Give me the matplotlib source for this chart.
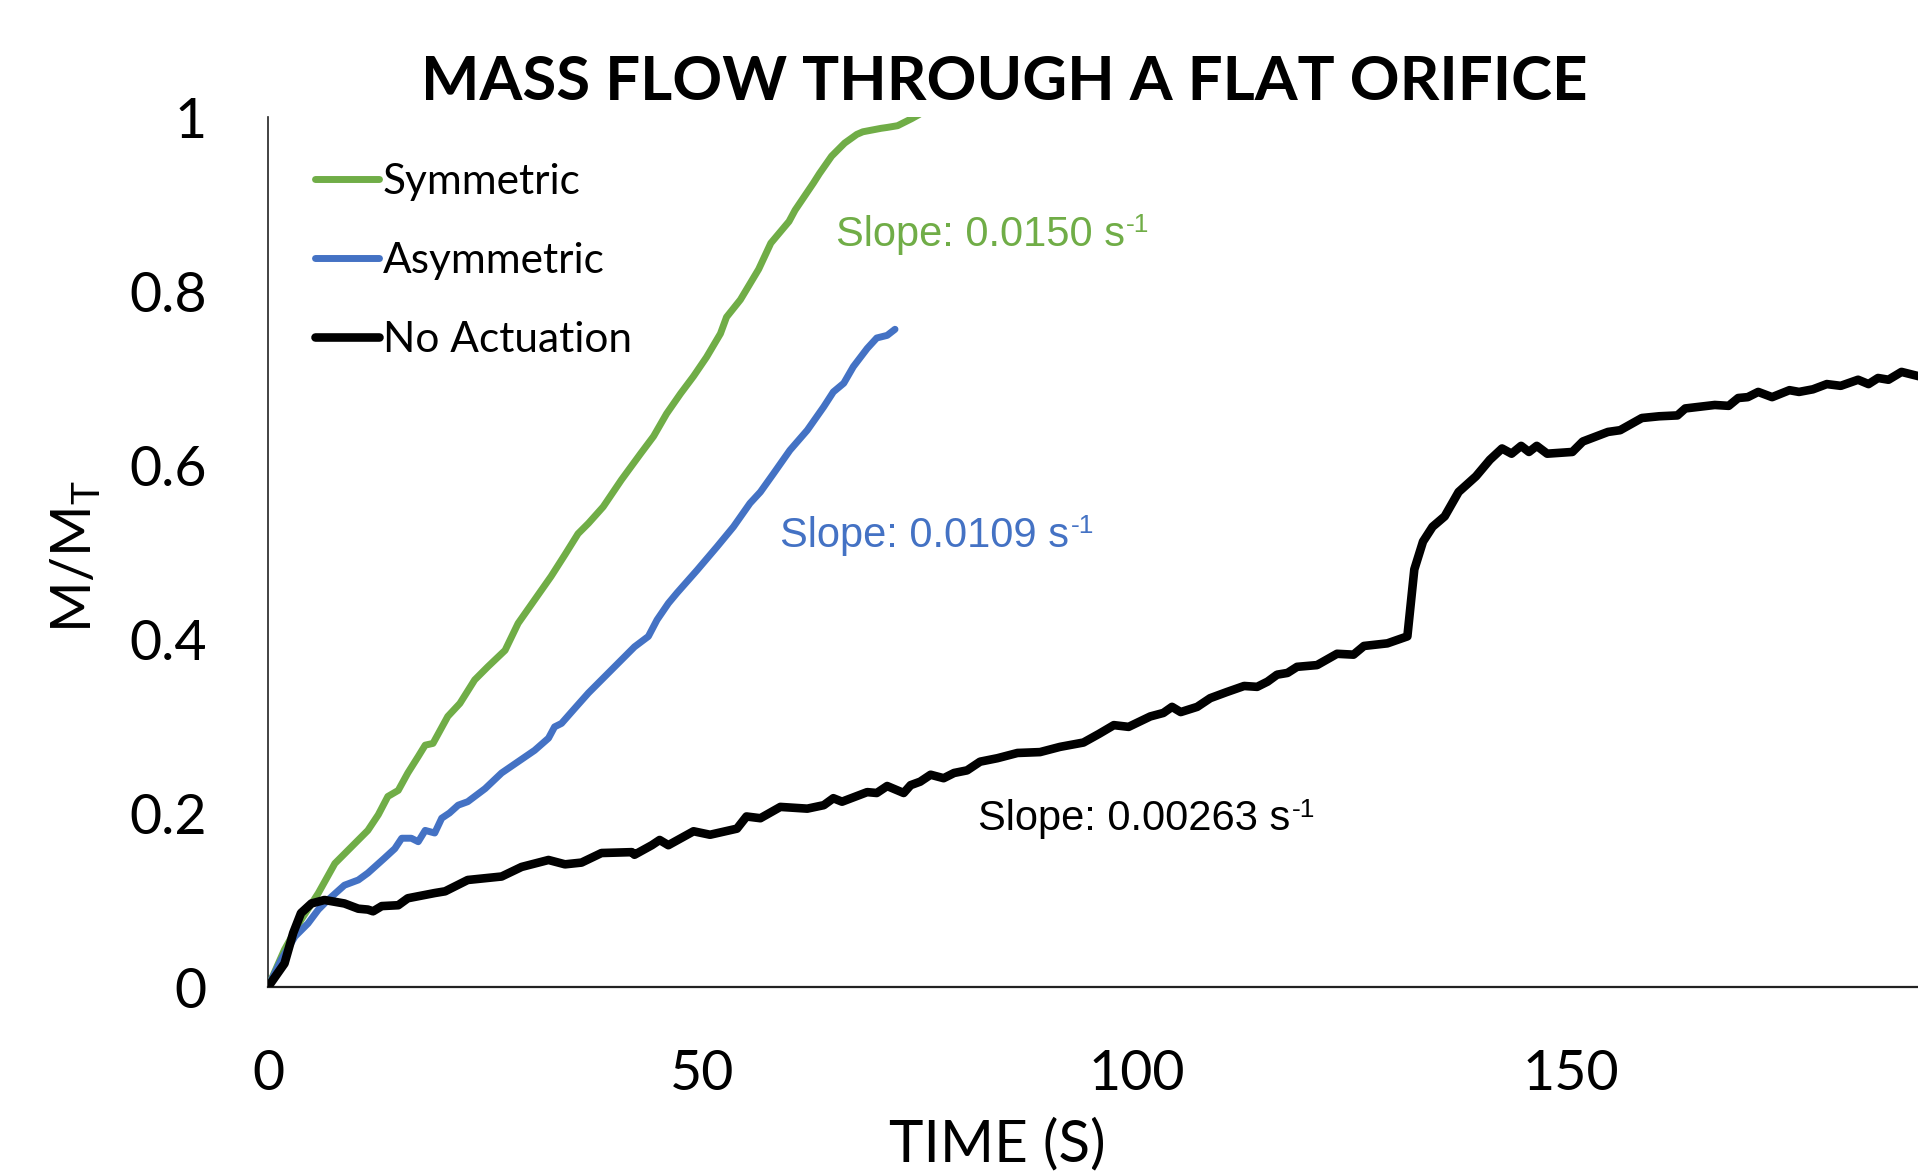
import matplotlib
matplotlib.use("Agg")
import matplotlib.pyplot as plt

# ---------------- data ----------------
sym_t = [0, 1.9, 3.8, 5.8, 7.7, 9.6, 11.5, 12.7, 13.8, 15.0, 16.1, 17.3, 18.1, 19.0,
         20.7, 22.1, 23.8, 25.3, 27.3, 28.8, 30.7, 32.6, 34.2, 35.7, 36.9, 38.6, 40.7,
         42.9, 44.4, 45.9, 47.5, 49.0, 50.5, 52.1, 52.8, 54.4, 56.5, 57.9, 60.0, 60.7,
         62.8, 63.5, 64.9, 66.4, 67.8, 68.5, 70.6, 71.3, 72.5, 74.1, 75.0]
sym_m = [0, 0.043, 0.077, 0.108, 0.142, 0.161, 0.180, 0.198, 0.219, 0.226, 0.246, 0.265,
         0.278, 0.280, 0.311, 0.326, 0.353, 0.368, 0.387, 0.418, 0.445, 0.472, 0.497,
         0.521, 0.533, 0.552, 0.583, 0.613, 0.633, 0.659, 0.682, 0.702, 0.724, 0.751,
         0.770, 0.790, 0.825, 0.855, 0.880, 0.893, 0.924, 0.935, 0.955, 0.970, 0.980,
         0.983, 0.987, 0.988, 0.990, 0.998, 1.003]

asym_t = [0, 1.5, 3.1, 4.6, 5.8, 6.9, 8.8, 10.4, 11.5, 13.4, 14.6, 15.4, 16.5, 17.3,
          18.1, 19.2, 20.0, 20.9, 21.9, 23.0, 25.0, 26.9, 28.8, 30.7, 32.3, 33.0, 33.8,
          35.3, 36.9, 38.4, 40.3, 42.2, 43.8, 44.8, 46.1, 47.1, 49.4, 51.7, 53.6, 55.5,
          56.7, 58.2, 60.1, 62.1, 64.0, 65.1, 66.3, 67.4, 69.0, 70.1, 71.3, 72.2]
asym_m = [0, 0.031, 0.058, 0.073, 0.089, 0.100, 0.117, 0.123, 0.131, 0.148, 0.159, 0.171,
          0.171, 0.167, 0.180, 0.177, 0.194, 0.200, 0.209, 0.213, 0.228, 0.246, 0.259,
          0.272, 0.286, 0.299, 0.303, 0.320, 0.338, 0.353, 0.372, 0.391, 0.403, 0.422,
          0.441, 0.453, 0.479, 0.506, 0.529, 0.556, 0.569, 0.590, 0.617, 0.640, 0.667,
          0.684, 0.694, 0.713, 0.734, 0.746, 0.749, 0.756]

noact_t = [0, 1.9, 2.9, 3.8, 5.0, 6.5, 8.8, 10.4, 11.5, 12.1, 13.1, 15.0, 16.1, 19.2,
           20.4, 23.0, 26.9, 29.2, 32.3, 34.2, 36.1, 38.4, 41.9, 42.2, 44.2, 45.1, 46.1,
           49.0, 50.9, 54.0, 55.1, 56.7, 59.0, 62.1, 64.0, 65.1, 66.1, 69.0, 70.1, 71.3,
           73.2, 74.0, 75.1, 76.3, 77.8, 79.0, 80.5, 82.0, 84.0, 86.3, 88.9, 91.2, 93.9,
           95.7, 97.4, 99.1, 101.6, 103.1, 104.1, 105.1, 107.0, 108.5, 110.4, 112.4,
           113.9, 115.1, 116.2, 117.4, 118.5, 120.8, 123.1, 125.0, 126.2, 128.9, 131.2,
           132.0, 133.0, 134.1, 135.5, 137.1, 139.1, 140.7, 142.1, 143.2, 144.3, 145.2,
           146.1, 147.3, 150.2, 151.4, 154.3, 155.7, 158.2, 160.2, 162.3, 163.2, 166.6,
           168.2, 169.3, 170.4, 171.6, 173.2, 175.2, 176.3, 177.9, 179.5, 181.1, 183.1,
           184.3, 185.4, 186.6, 188.1, 190.1]
noact_m = [0, 0.027, 0.062, 0.085, 0.096, 0.100, 0.096, 0.090, 0.089, 0.087, 0.093, 0.094,
           0.102, 0.108, 0.110, 0.123, 0.127, 0.138, 0.146, 0.141, 0.143, 0.154, 0.155,
           0.152, 0.163, 0.169, 0.163, 0.179, 0.175, 0.182, 0.196, 0.194, 0.207, 0.205,
           0.209, 0.217, 0.213, 0.224, 0.223, 0.231, 0.223, 0.232, 0.236, 0.244, 0.240,
           0.246, 0.249, 0.259, 0.263, 0.269, 0.270, 0.276, 0.281, 0.291, 0.301, 0.299,
           0.311, 0.315, 0.322, 0.316, 0.322, 0.332, 0.339, 0.346, 0.345, 0.351, 0.359,
           0.361, 0.368, 0.370, 0.383, 0.382, 0.392, 0.395, 0.403, 0.480, 0.512, 0.529,
           0.541, 0.569, 0.587, 0.606, 0.619, 0.613, 0.622, 0.615, 0.622, 0.613, 0.615,
           0.627, 0.638, 0.640, 0.654, 0.656, 0.657, 0.665, 0.669, 0.668, 0.677, 0.678,
           0.684, 0.678, 0.686, 0.684, 0.687, 0.693, 0.691, 0.698, 0.693, 0.700, 0.698,
           0.707, 0.702]

x_ticks = [0, 50, 100, 150]
x_tick_labels = ["0", "50", "100", "150"]
y_ticks = [0, 0.2, 0.4, 0.6, 0.8, 1.0]
y_tick_labels = ["0", "0.2", "0.4", "0.6", "0.8", "1"]

series_labels = ["Symmetric", "Asymmetric", "No Actuation"]
slope_texts = ["Slope: 0.0150 s", "Slope: 0.0109 s", "Slope: 0.00263 s"]
slope_unit_sup = "-1"
slope_pos = [(65.4, 0.852), (59.0, 0.506), (81.8, 0.180)]

GREEN = "#70AD47"
BLUE = "#4472C4"
BLACK = "#000000"

# ---------------- figure ----------------
plt.rcParams["font.family"] = ["Lato", "DejaVu Sans"]
fig = plt.figure(figsize=(19.18, 11.71), dpi=100)
ax = fig.add_axes([268 / 1918, 1 - 987 / 1171, 1 - 268 / 1918, (987 - 117) / 1171])

common = dict(solid_joinstyle="round", solid_capstyle="round", clip_on=True)
ax.plot(sym_t, sym_m, color=GREEN, lw=5.0, label=series_labels[0], zorder=3, **common)
ax.plot(asym_t, asym_m, color=BLUE, lw=5.0, label=series_labels[1], zorder=3, **common)
ax.plot(noact_t, noact_m, color=BLACK, lw=6.2, label=series_labels[2], zorder=4, **common)

ax.set_xlim(0, 190)
ax.set_ylim(0, 1)
ax.set_xticks(x_ticks)
ax.set_xticklabels(x_tick_labels)
ax.set_yticks(y_ticks)
ax.set_yticklabels(y_tick_labels)
ax.tick_params(axis="both", length=0, labelsize=40)
ax.tick_params(axis="y", pad=44)
ax.tick_params(axis="x", pad=45)

for s in ["top", "right"]:
    ax.spines[s].set_visible(False)
ax.spines["left"].set_linewidth(1.2)
ax.spines["bottom"].set_linewidth(1.6)
ax.spines["left"].set_color("#222222")
ax.spines["bottom"].set_color("#222222")

# slope annotations (main text + superscript "-1")
for txt, (px, py), col in zip(slope_texts, slope_pos, [GREEN, BLUE, BLACK]):
    t = ax.text(px, py, txt, color=col, fontsize=30, family="Liberation Sans",
                ha="left", va="baseline")
    ax.annotate(slope_unit_sup, xy=(1, 1), xycoords=t, xytext=(1, 1),
                textcoords="offset points", color=col, fontsize=19,
                family="Liberation Sans", ha="left", va="top")

leg = ax.legend(loc="upper left", bbox_to_anchor=(0.0285, 0.947), frameon=False,
                fontsize=30.5, handlelength=1.5, handletextpad=0.1, labelspacing=0.97,
                borderpad=0, borderaxespad=0)

fig.text(1004 / 1918, 1 - 82 / 1171, "MASS FLOW THROUGH A FLAT ORIFICE",
         fontsize=44.5, fontweight="bold", ha="center", va="center")
fig.text(997 / 1918, 1 - 1145 / 1171, "TIME (S)", fontsize=42, ha="center", va="center")
fig.text(75 / 1918, 1 - 556 / 1171, "M/M$_\\mathregular{T}$", fontsize=40,
         rotation=90, ha="center", va="center")

fig.savefig("out.png", dpi=100)
